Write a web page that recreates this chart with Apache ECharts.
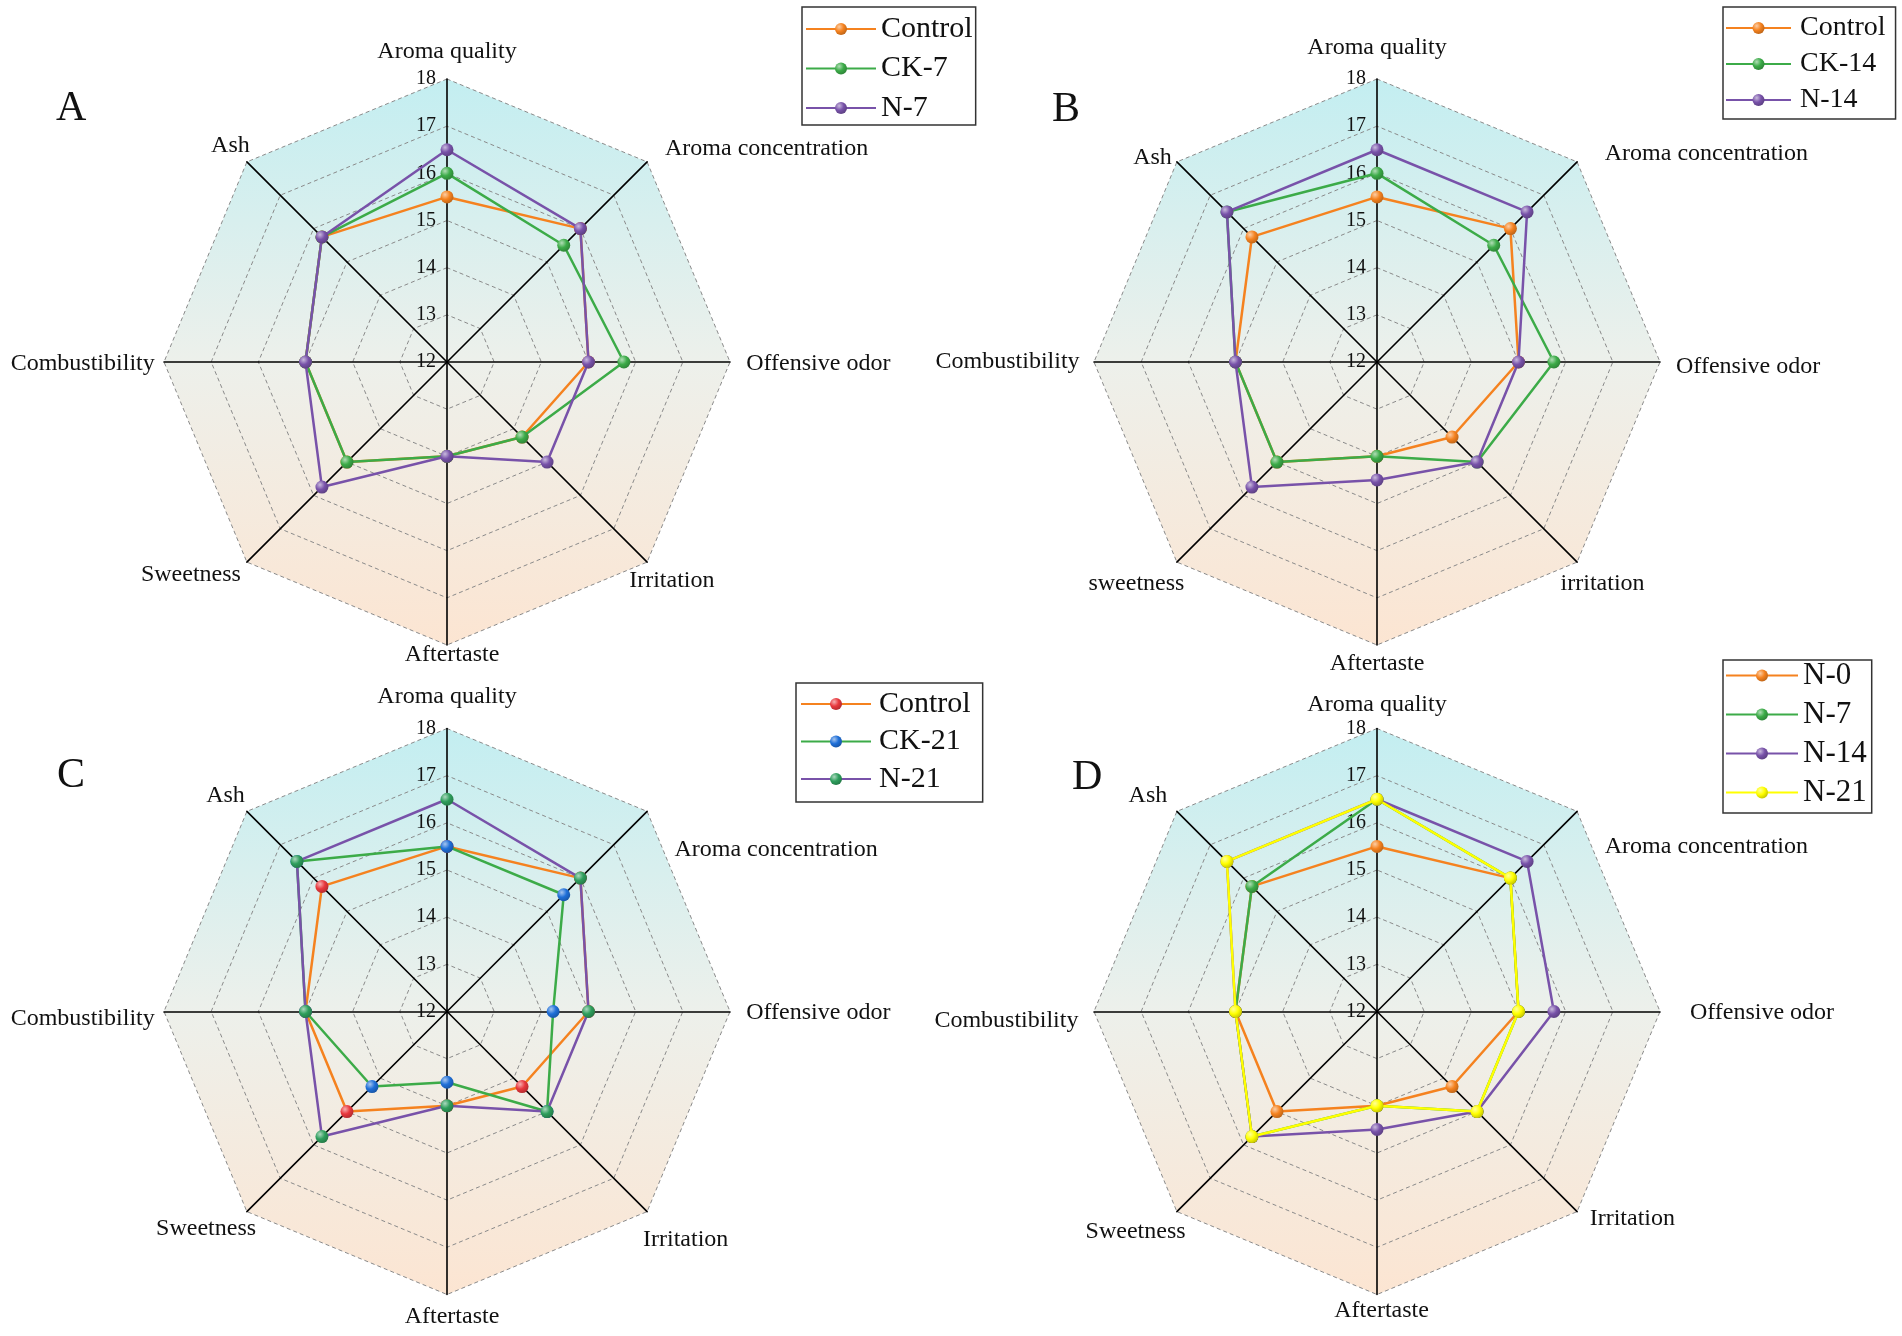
<!DOCTYPE html>
<html><head><meta charset="utf-8">
<script src="https://cdn.jsdelivr.net/npm/echarts@6/dist/echarts.min.js"></script>
<style>html,body{margin:0;padding:0;background:#fff}#c{width:1902px;height:1336px}</style>
</head><body><div id="c"></div>
<script>
// ---------------- data ----------------
// indicator order (counter-clockwise from top)
const indicatorsACD = ['Aroma quality','Ash','Combustibility','Sweetness','Aftertaste','Irritation','Offensive odor','Aroma concentration'];
const indicatorsB   = ['Aroma quality','Ash','Combustibility','sweetness','Aftertaste','irritation','Offensive odor','Aroma concentration'];
const tickMin = 12, tickMax = 18, tickSplits = 6;
const panelTitles = ['A','B','C','D'];

const seriesNamesA = ['Control','CK-7','N-7'];
const controlA = [15.5, 15.75, 15.0, 15.0, 14.0, 14.25, 15.0, 16.0];
const ck7A     = [16.0, 15.75, 15.0, 15.0, 14.0, 14.25, 15.75, 15.5];
const n7A      = [16.5, 15.75, 15.0, 15.75, 14.0, 15.0, 15.0, 16.0];

const seriesNamesB = ['Control','CK-14','N-14'];
const controlB = [15.5, 15.75, 15.0, 15.0, 14.0, 14.25, 15.0, 16.0];
const ck14B    = [16.0, 16.5, 15.0, 15.0, 14.0, 15.0, 15.75, 15.5];
const n14B     = [16.5, 16.5, 15.0, 15.75, 14.5, 15.0, 15.0, 16.5];

const seriesNamesC = ['Control','CK-21','N-21'];
const controlC = [15.5, 15.75, 15.0, 15.0, 14.0, 14.25, 15.0, 16.0];
const ck21C    = [15.5, 16.5, 15.0, 14.25, 13.5, 15.0, 14.25, 15.5];
const n21C     = [16.5, 16.5, 15.0, 15.75, 14.0, 15.0, 15.0, 16.0];

const seriesNamesD = ['N-0','N-7','N-14','N-21'];
const n0D  = [15.5, 15.75, 15.0, 15.0, 14.0, 14.25, 15.0, 16.0];
const n7D  = [16.5, 15.75, 15.0, 15.75, 14.0, 15.0, 15.0, 16.0];
const n14D = [16.5, 16.5, 15.0, 15.75, 14.5, 15.0, 15.75, 16.5];
const n21D = [16.5, 16.5, 15.0, 15.75, 14.0, 15.0, 15.0, 16.0];

// ---------------- styling / layout ----------------
const FONT = 'Liberation Serif, serif';
const R = 283;
const ORANGE='#F5821F', GREEN='#3CAB48', PURPLE='#7852A9', RED='#E8383D', BLUE='#1F6FD8', TEAL='#2E9E5C', YELLOW='#FFFF00';

function hex2rgb(h){h=h.replace('#','');return [0,2,4].map(i=>parseInt(h.substr(i,2),16));}
function mix(a,b,t){const A=hex2rgb(a),B=hex2rgb(b);return 'rgb('+A.map((v,i)=>Math.round(v+(B[i]-v)*t)).join(',')+')';}
function sphere(c){
  return new echarts.graphic.RadialGradient(0.35,0.32,0.75,[
    {offset:0,color:mix(c,'#ffffff',0.6)},{offset:0.5,color:c},{offset:1,color:mix(c,'#000000',0.25)}]);
}

// label centre offsets from each axis end [dx, dy]
const nameOffsets = [
  [[0,-27.5],[-16.5,-16.4],[-81.3,2],[-56,13],[5,10],[24.75,19],[88.3,2],[119.5,-13.4]],
  [[0,-31.2],[-24.4,-4],[-86.4,0],[-40.5,21.9],[0,18.7],[25.5,21.9],[88.1,5],[129.3,-8.4]],
  [[0,-31.5],[-21.4,-15.5],[-81.3,7.5],[-40.8,17.5],[5,22.2],[38.6,28.5],[88.3,1.4],[128.9,37.9]],
  [[0,-23.8],[-29,-15.5],[-87.6,9],[-41.3,20.5],[4.6,15.8],[55.2,7.1],[102,1.4],[129.3,34.9]]
];
const centers = [[447,362],[1377,362],[447,1011.5],[1377,1011.5]];

function radarCfg(p, names){
  const cx = centers[p][0], cy = centers[p][1];
  const rich = {};
  nameOffsets[p].forEach((o,i)=>{
    rich['p'+i] = {fontSize:24, fontFamily:FONT, color:'#111',
      padding:[Math.max(0,2*o[1]), Math.max(0,-2*o[0]), Math.max(0,-2*o[1]), Math.max(0,2*o[0])]};
  });
  const grad = {type:'linear', x:0, y:cy-R, x2:0, y2:cy+R, global:true,
    colorStops:[{offset:0,color:'#c3eef1'},{offset:0.5,color:'#edf0eb'},{offset:1,color:'#fce5d2'}]};
  return {
    center:[cx,cy], radius:R, startAngle:90, shape:'polygon', splitNumber:tickSplits,
    indicator: names.map((n,i)=> i===0 ? {name:n, min:tickMin, max:tickMax, axisLabel:{show:true}} : {name:n, min:tickMin, max:tickMax}),
    nameGap:0,
    axisName:{formatter:(n)=>'{p'+names.indexOf(n)+'|'+n+'}', rich, align:'center', verticalAlign:'middle',
      fontSize:24, fontFamily:FONT, color:'#111'},
    axisLine:{show:true, lineStyle:{color:'#000', width:1.6}},
    axisTick:{show:false},
    axisLabel:{show:false, fontSize:20, fontFamily:FONT, color:'#111', margin:11},
    splitLine:{show:true, lineStyle:{color:'#8a8a8a', width:1, type:[4,3]}},
    splitArea:{show:true, areaStyle:{color:[grad]}}
  };
}

const panels = [
  {key:'A', names:seriesNamesA, data:[controlA, ck7A, n7A], line:[ORANGE,GREEN,PURPLE], mark:[ORANGE,GREEN,PURPLE], ind:indicatorsACD},
  {key:'B', names:seriesNamesB, data:[controlB, ck14B, n14B], line:[ORANGE,GREEN,PURPLE], mark:[ORANGE,GREEN,PURPLE], ind:indicatorsB},
  {key:'C', names:seriesNamesC, data:[controlC, ck21C, n21C], line:[ORANGE,GREEN,PURPLE], mark:[RED,BLUE,TEAL], ind:indicatorsACD},
  {key:'D', names:seriesNamesD, data:[n0D, n7D, n14D, n21D], line:[ORANGE,GREEN,PURPLE,YELLOW], mark:[ORANGE,GREEN,PURPLE,YELLOW], ind:indicatorsACD}
];

const legendLayout = [
  {left:802, top:7, itemWidth:70, itemGap:9.5, padding:[7,3,2,3], fontSize:30, textPad:0},
  {left:1723, top:7, itemWidth:65, itemGap:8, padding:[7,10,5,2], fontSize:28, textPad:4},
  {left:796, top:683, itemWidth:70, itemGap:7.5, padding:[6,12,8,4], fontSize:30, textPad:3},
  {left:1723, top:660, itemWidth:72, itemGap:8, padding:[0,5,5,2], fontSize:31, textPad:0}
];
const titlePos = [[56,88],[1052,89],[57,755],[1072,757]];

const series = [];
const proxies = [];
const legends = [];
panels.forEach((pn,p)=>{
  pn.names.forEach((nm,i)=>{
    const id = nm+'|'+pn.key;
    proxies.push({type:'line', name:id, data:[], symbol:'circle', silent:true,
      lineStyle:{color:pn.line[i], width:2.5}, itemStyle:{color:sphere(pn.mark[i])}});
    series.push({type:'radar', name:id, radarIndex:p, symbol:'circle', symbolSize:13,
      lineStyle:{color:pn.line[i], width:2.5}, itemStyle:{color:sphere(pn.mark[i])},
      emphasis:{disabled:true}, z:2+i,
      data:[{name:id, value:pn.data[i]}]});
  });
  const L = legendLayout[p];
  legends.push({orient:'vertical', left:L.left, top:L.top, itemWidth:L.itemWidth, itemHeight:15, itemGap:L.itemGap,
    padding:L.padding, borderColor:'#333', borderWidth:1.5, selectedMode:false,
    data: pn.names.map(nm=>nm+'|'+pn.key), formatter:(n)=>n.split('|')[0],
    textStyle:{fontSize:L.fontSize, fontFamily:FONT, color:'#111', padding:[0,0,0,L.textPad]}});
});

const option = {
  backgroundColor:'#fff',
  animation:false,
  textStyle:{fontFamily:FONT},
  title: panelTitles.map((t,i)=>({text:t, left:titlePos[i][0], top:titlePos[i][1], padding:0,
    textStyle:{fontSize:42, fontWeight:'normal', fontFamily:FONT, color:'#111'}})),
  legend: legends,
  grid:{left:0, top:0, width:1, height:1, show:false},
  xAxis:{type:'value', show:false},
  yAxis:{type:'value', show:false},
  radar: panels.map((pn,p)=>radarCfg(p, pn.ind)),
  series: proxies.concat(series)
};
const chart = echarts.init(document.getElementById('c'));
chart.setOption(option);
</script></body></html>
